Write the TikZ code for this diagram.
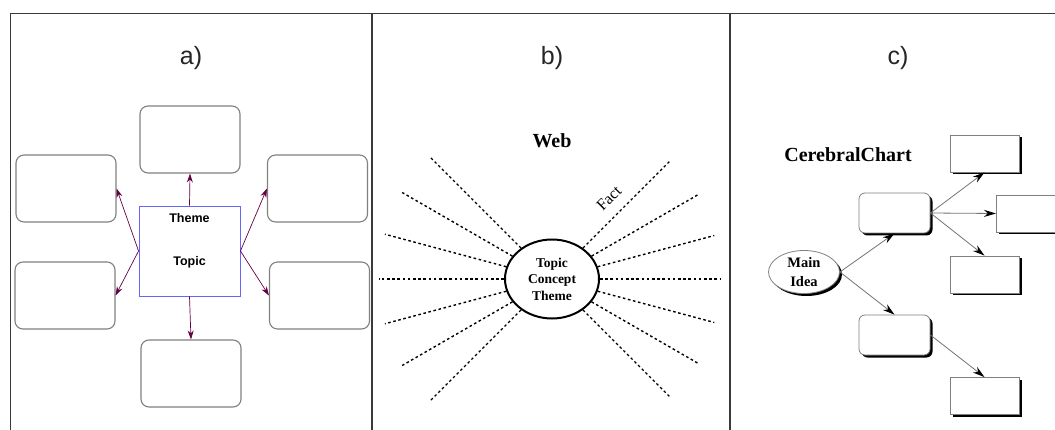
\documentclass[tikz,border=0pt]{standalone}
\usepackage{fontspec}
\setmainfont{Liberation Serif}
\setsansfont{Liberation Sans}
\usetikzlibrary{shapes.geometric,shadows,arrows.meta,calc}
\definecolor{frameline}{HTML}{3A3A3A}
\definecolor{boxline}{HTML}{808080}
\definecolor{arrowpurple}{HTML}{660044}
\definecolor{squareblue}{HTML}{6666FF}
\begin{document}
\begin{tikzpicture}[x=1pt,y=1pt,>=Stealth,
  panellabel/.style={font=\sffamily\fontsize{25}{28}\selectfont, text=black!85},
  ideabox/.style={draw=boxline, line width=1.1pt, rounded corners=8pt, minimum width=100pt, minimum height=67pt, inner sep=0pt},
  spoke/.style={-{Stealth[length=9pt,width=6pt]}, arrowpurple, line width=0.7pt},
  ray/.style={dash pattern=on 2.6pt off 2.6pt, line width=1.4pt},
  chartbox/.style={draw=boxline, fill=white, line width=0.8pt, minimum width=69pt, minimum height=37pt, inner sep=0pt,
    drop shadow={shadow xshift=2.5pt, shadow yshift=-2.5pt, fill=black, opacity=1}},
  branch/.style={-{Stealth[length=12pt,width=7pt,black]}, draw=black!55, line width=0.8pt}]
 \useasboundingbox (0,0) rectangle (1055,-430);
 % frame
 \draw[frameline, line width=1.4pt] (10.5,-430) -- (10.5,-13.5) -- (1055,-13.5);
 \draw[frameline, line width=1.4pt] (372,-13.5) -- (372,-430);
 \draw[frameline, line width=1.4pt] (730,-13.5) -- (730,-430);
 \node[panellabel] (labela) at (191,-58) {a)};
 \node[panellabel] (labelb) at (552,-58) {b)};
 \node[panellabel] (labelc) at (898,-58) {c)};

 % a) theme / topic boxes
 \node[draw=squareblue, line width=0.9pt, minimum width=101pt, minimum height=90pt, inner sep=0pt] (sq) at (189.5,-251) {};
 \node[font=\sffamily\bfseries\fontsize{12.5}{14}\selectfont] (theme) at (189.5,-218) {Theme};
 \node[font=\sffamily\bfseries\fontsize{12.5}{14}\selectfont] (topic) at (189.5,-262) {Topic};
 \node[ideabox] (top) at (190,-139.5) {};
 \node[ideabox] (bot) at (191,-373.5) {};
 \node[ideabox] (lu) at (66,-188.5) {};
 \node[ideabox] (ll) at (65,-295.5) {};
 \node[ideabox] (ru) at (317.5,-188.5) {};
 \node[ideabox] (rl) at (319.5,-295.5) {};
 \draw[spoke] (sq.north) -- (top.south);
 \draw[spoke] (sq.south) -- (bot.north);
 \draw[spoke] (sq.west) -- (lu.east);
 \draw[spoke] (sq.west) -- (ll.east);
 \draw[spoke] (sq.east) -- (ru.west);
 \draw[spoke] (sq.east) -- (rl.west);

 % b) web
 \node[font=\bfseries\fontsize{20}{22}\selectfont] (web) at (552,-141) {Web};
 \node[draw, ellipse, line width=2pt, minimum width=94pt, minimum height=79pt, inner sep=0pt, align=center,
   font=\bfseries\fontsize{13.5}{16.5}\selectfont] (core) at (552,-279) {Topic\\Concept\\Theme};
 \foreach \a in {135,150,165,180,195,210,225}
   \draw[ray] (core.\a) -- ($(core.center)+(\a:173)$);
 \foreach \a in {45,30,15,0,-15,-30,-45}
   \draw[ray] (core.\a) -- ($(core.center)+(\a:168)$);
 \node[rotate=45, font=\fontsize{16}{18}\selectfont, inner sep=0pt] (fact) at (609,-198) {Fact};

 % c) cerebral chart
 \node[font=\bfseries\fontsize{20}{22}\selectfont] (chart) at (848,-155) {CerebralChart};
 \node[chartbox, ellipse, minimum width=71pt, minimum height=43pt, align=center,
   font=\bfseries\fontsize{14.5}{19}\selectfont] (main) at (804,-272) {Main\\Idea};
 \node[chartbox, rounded corners=6pt, minimum width=71pt, minimum height=40pt] (mida) at (894.5,-213) {};
 \node[chartbox, rounded corners=6pt, minimum width=71pt, minimum height=40pt] (midb) at (894.5,-335) {};
 \node[chartbox] (ra) at (984.5,-153.5) {};
 \node[chartbox, minimum width=74pt, anchor=west] (rb) at (996,-213.5) {};
 \node[chartbox] (rc) at (984.5,-274.5) {};
 \node[chartbox] (rd) at (984.5,-396) {};
 \draw[branch] (main.east) -- (mida.south);
 \draw[branch] (main.east) -- (midb.north);
 \draw[branch] (mida.east) -- (ra.south);
 \draw[branch] (mida.east) -- (rb.west);
 \draw[branch] (mida.east) -- (rc.north);
 \draw[branch] (midb.east) -- (rd.north);
\end{tikzpicture}
\end{document}
